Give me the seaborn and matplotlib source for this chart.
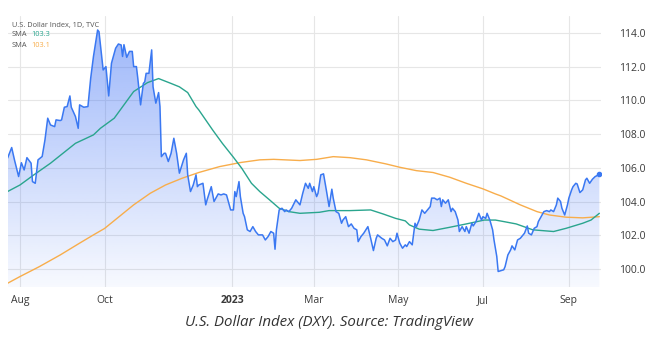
import numpy as np
import pandas as pd
import matplotlib
matplotlib.use("Agg")
import matplotlib.pyplot as plt
import matplotlib.dates as mdates
import seaborn as sns

# ---------------- data ----------------
dxy_dates = [
    "2022-07-23", "2022-07-26", "2022-07-28", "2022-07-31", "2022-08-02", "2022-08-04", "2022-08-06",
    "2022-08-09", "2022-08-10", "2022-08-12", "2022-08-14", "2022-08-17", "2022-08-19", "2022-08-21",
    "2022-08-23", "2022-08-26", "2022-08-27", "2022-08-30", "2022-08-31", "2022-09-02", "2022-09-04",
    "2022-09-06", "2022-09-07", "2022-09-10", "2022-09-12", "2022-09-13", "2022-09-16", "2022-09-19",
    "2022-09-21", "2022-09-23", "2022-09-26", "2022-09-27", "2022-09-30", "2022-10-02", "2022-10-04",
    "2022-10-06", "2022-10-09", "2022-10-11", "2022-10-13", "2022-10-14", "2022-10-15", "2022-10-17",
    "2022-10-19", "2022-10-21", "2022-10-22", "2022-10-24", "2022-10-25", "2022-10-27", "2022-10-29",
    "2022-10-30", "2022-10-31", "2022-11-02", "2022-11-04", "2022-11-05", "2022-11-07", "2022-11-09",
    "2022-11-10", "2022-11-11", "2022-11-13", "2022-11-14", "2022-11-16", "2022-11-18", "2022-11-20",
    "2022-11-22", "2022-11-24", "2022-11-27", "2022-11-29", "2022-11-30", "2022-12-02", "2022-12-04",
    "2022-12-06", "2022-12-07", "2022-12-08", "2022-12-11", "2022-12-13", "2022-12-14", "2022-12-17",
    "2022-12-19", "2022-12-22", "2022-12-24", "2022-12-26", "2022-12-28", "2022-12-31", "2023-01-02",
    "2023-01-03", "2023-01-04", "2023-01-06", "2023-01-07", "2023-01-09", "2023-01-10", "2023-01-12",
    "2023-01-14", "2023-01-16", "2023-01-18", "2023-01-20", "2023-01-23", "2023-01-25", "2023-01-27",
    "2023-01-29", "2023-01-31", "2023-02-01", "2023-02-02", "2023-02-04", "2023-02-06", "2023-02-08",
    "2023-02-09", "2023-02-11", "2023-02-13", "2023-02-16", "2023-02-19", "2023-02-21", "2023-02-23",
    "2023-02-25", "2023-02-26", "2023-02-28", "2023-03-01", "2023-03-03", "2023-03-04", "2023-03-06",
    "2023-03-08", "2023-03-10", "2023-03-12", "2023-03-14", "2023-03-15", "2023-03-17", "2023-03-19",
    "2023-03-21", "2023-03-22", "2023-03-24", "2023-03-26", "2023-03-28", "2023-03-30", "2023-04-01",
    "2023-04-02", "2023-04-04", "2023-04-06", "2023-04-09", "2023-04-11", "2023-04-13", "2023-04-15",
    "2023-04-16", "2023-04-19", "2023-04-21", "2023-04-23", "2023-04-25", "2023-04-27", "2023-04-29",
    "2023-04-30", "2023-05-02", "2023-05-04", "2023-05-06", "2023-05-07", "2023-05-09", "2023-05-11",
    "2023-05-13", "2023-05-14", "2023-05-16", "2023-05-18", "2023-05-20", "2023-05-22", "2023-05-24",
    "2023-05-25", "2023-05-27", "2023-05-29", "2023-05-31", "2023-06-01", "2023-06-02", "2023-06-04",
    "2023-06-06", "2023-06-08", "2023-06-09", "2023-06-11", "2023-06-13", "2023-06-14", "2023-06-16",
    "2023-06-18", "2023-06-19", "2023-06-21", "2023-06-23", "2023-06-24", "2023-06-26", "2023-06-28",
    "2023-06-30", "2023-07-01", "2023-07-03", "2023-07-04", "2023-07-06", "2023-07-08", "2023-07-09",
    "2023-07-11", "2023-07-12", "2023-07-14", "2023-07-16", "2023-07-17", "2023-07-19", "2023-07-21",
    "2023-07-22", "2023-07-24", "2023-07-26", "2023-07-28", "2023-07-30", "2023-07-31", "2023-08-02",
    "2023-08-03", "2023-08-05", "2023-08-07", "2023-08-09", "2023-08-10", "2023-08-12", "2023-08-14",
    "2023-08-16", "2023-08-18", "2023-08-19", "2023-08-21", "2023-08-23", "2023-08-24", "2023-08-26",
    "2023-08-27", "2023-08-29", "2023-08-31", "2023-09-01", "2023-09-03", "2023-09-04", "2023-09-06",
    "2023-09-07", "2023-09-09", "2023-09-11", "2023-09-13", "2023-09-14", "2023-09-16", "2023-09-18",
    "2023-09-20", "2023-09-21", "2023-09-23",
]
dxy_values = [
    106.57, 107.20, 106.47, 105.48, 106.30, 105.87, 106.60,
    106.27, 105.18, 105.08, 106.47, 106.67, 107.65, 108.94,
    108.54, 108.44, 108.84, 108.80, 108.84, 109.59, 109.63,
    110.26, 109.59, 109.04, 108.34, 109.73, 109.59, 109.63,
    111.31, 112.60, 114.17, 114.07, 111.80, 112.00, 110.26,
    112.20, 113.09, 113.34, 113.28, 112.60, 113.30, 112.55,
    112.90, 112.90, 112.00, 112.00, 111.30, 109.73, 111.00,
    111.10, 111.60, 111.60, 112.99, 110.80, 109.83, 110.46,
    109.63, 106.66, 106.86, 106.86, 106.37, 106.86, 107.75,
    106.86, 105.68, 106.47, 106.86, 105.58, 104.59, 104.98,
    105.58, 104.88, 104.98, 105.08, 103.80, 104.10, 104.88,
    104.00, 104.45, 104.39, 104.45, 104.39, 103.50, 103.50,
    104.59, 104.29, 105.18, 104.29, 103.30, 103.10, 102.32,
    102.22, 102.51, 102.22, 102.02, 102.02, 101.72, 101.92,
    102.22, 102.12, 101.17, 102.32, 103.50, 103.60, 103.40,
    103.50, 103.40, 103.60, 104.10, 103.80, 104.49, 105.08,
    104.78, 105.08, 104.59, 104.88, 104.29, 104.49, 105.58,
    105.64, 104.69, 103.70, 104.73, 104.20, 103.40, 103.30,
    102.71, 102.90, 103.10, 102.51, 102.67, 102.41, 102.32,
    101.62, 101.92, 102.12, 102.51, 101.82, 101.09, 101.82,
    102.02, 101.82, 101.72, 101.37, 101.82, 101.62, 101.72,
    102.12, 101.53, 101.23, 101.43, 101.33, 101.62, 101.43,
    102.71, 102.51, 102.90, 103.50, 103.30, 103.50, 103.70,
    104.20, 104.20, 104.10, 104.20, 103.70, 104.10, 103.90,
    104.10, 103.40, 103.60, 103.40, 102.90, 102.22, 102.51,
    102.22, 102.51, 102.12, 102.71, 102.55, 102.81, 103.30,
    102.90, 103.10, 103.00, 103.30, 102.90, 102.32, 101.72,
    100.74, 99.85, 99.90, 99.95, 100.14, 100.83, 101.13,
    101.37, 101.13, 101.72, 101.82, 102.02, 102.12, 102.55,
    102.12, 102.02, 102.41, 102.51, 102.81, 103.10, 103.40,
    103.46, 103.40, 103.50, 103.40, 103.80, 104.20, 104.00,
    103.60, 103.20, 103.80, 104.20, 104.69, 104.88, 105.08,
    105.04, 104.53, 104.69, 105.28, 105.38, 105.08, 105.32,
    105.48, 105.52, 105.62,
]

sma50_dates = [
    "2022-07-23", "2022-08-01", "2022-08-11", "2022-08-23", "2022-09-01", "2022-09-10", "2022-09-23",
    "2022-09-28", "2022-10-08", "2022-10-15", "2022-10-22", "2022-11-01", "2022-11-09", "2022-11-18",
    "2022-11-24", "2022-11-30", "2022-12-06", "2022-12-08", "2022-12-18", "2022-12-25", "2023-01-02",
    "2023-01-08", "2023-01-15", "2023-01-21", "2023-01-28", "2023-02-04", "2023-02-11", "2023-02-19",
    "2023-03-05", "2023-03-12", "2023-03-27", "2023-04-11", "2023-04-20", "2023-04-29", "2023-05-06",
    "2023-05-09", "2023-05-16", "2023-05-26", "2023-06-07", "2023-06-19", "2023-07-02", "2023-07-10",
    "2023-07-16", "2023-07-25", "2023-08-06", "2023-08-21", "2023-08-30", "2023-09-11", "2023-09-17",
    "2023-09-23",
]
sma50_values = [
    104.59, 104.98, 105.58, 106.27, 106.86, 107.45, 107.95,
    108.34, 108.94, 109.73, 110.52, 111.05, 111.29, 111.00,
    110.80, 110.46, 109.63, 109.43, 108.24, 107.45, 106.62,
    105.97, 105.08, 104.59, 104.10, 103.60, 103.40, 103.30,
    103.36, 103.46, 103.46, 103.50, 103.26, 103.00, 102.85,
    102.61, 102.36, 102.28, 102.47, 102.67, 102.90, 102.90,
    102.81, 102.67, 102.32, 102.22, 102.41, 102.71, 102.90,
    103.30,
]

sma200_dates = [
    "2022-07-23", "2022-08-01", "2022-08-15", "2022-08-30", "2022-09-13", "2022-09-23", "2022-10-01",
    "2022-10-10", "2022-10-22", "2022-11-03", "2022-11-14", "2022-11-26", "2022-12-08", "2022-12-23",
    "2023-01-07", "2023-01-21", "2023-01-31", "2023-02-19", "2023-03-03", "2023-03-15", "2023-03-27",
    "2023-04-08", "2023-04-22", "2023-05-02", "2023-05-14", "2023-05-26", "2023-06-07", "2023-06-19",
    "2023-07-01", "2023-07-10", "2023-07-14", "2023-07-28", "2023-08-09", "2023-08-18", "2023-08-30",
    "2023-09-11", "2023-09-23",
]
sma200_values = [
    99.15, 99.55, 100.14, 100.83, 101.53, 102.02, 102.40,
    103.00, 103.80, 104.49, 104.98, 105.38, 105.72, 106.07,
    106.31, 106.47, 106.50, 106.43, 106.50, 106.66, 106.60,
    106.47, 106.23, 106.03, 105.83, 105.72, 105.44, 105.08,
    104.75, 104.45, 104.33, 103.80, 103.40, 103.20, 103.07,
    103.03, 103.10,
]

y_ticks = [100, 102, 104, 106, 108, 110, 112, 114]
x_tick_dates = ["2022-08-01", "2022-10-01", "2023-01-01", "2023-03-01",
                "2023-05-01", "2023-07-01", "2023-09-01"]
x_tick_labels = ["Aug", "Oct", "2023", "Mar", "May", "Jul", "Sep"]

title_text = "U.S. Dollar Index, 1D, TVC"
sma50_label = "103.3"
sma200_label = "103.1"
caption = "U.S. Dollar Index (DXY). Source: TradingView"

# ---------------- style ----------------
sns.set_theme(style="white")
plt.rcParams['font.family'] = ['Open Sans', 'DejaVu Sans']

BLUE = "#3a78f2"
GREEN = "#2aa58e"
ORANGE = "#f8ad4b"
GRID = "#e6e6e6"
TEXT = "#3a3a3a"

df_dxy = pd.DataFrame({"date": pd.to_datetime(dxy_dates), "value": dxy_values})
df_50 = pd.DataFrame({"date": pd.to_datetime(sma50_dates), "value": sma50_values})
df_200 = pd.DataFrame({"date": pd.to_datetime(sma200_dates), "value": sma200_values})

fig = plt.figure(figsize=(6.64, 3.37), dpi=100)
ax = fig.add_axes([8 / 664, 1 - 287 / 337, 593 / 664, 271 / 337])

aug1 = pd.Timestamp("2022-08-01")
x_lo = aug1 - pd.Timedelta(days=8.66)
x_hi = aug1 + pd.Timedelta(days=419.2)
y_lo, y_hi = 98.93, 115.0

# lines
sns.lineplot(data=df_200, x="date", y="value", ax=ax, color=ORANGE, linewidth=1.0, zorder=4)
sns.lineplot(data=df_50, x="date", y="value", ax=ax, color=GREEN, linewidth=1.0, zorder=4)
sns.lineplot(data=df_dxy, x="date", y="value", ax=ax, color=BLUE, linewidth=1.1, zorder=5)

# gradient area fill under DXY
xn = mdates.date2num(df_dxy["date"])
poly = ax.fill_between(xn, df_dxy["value"], y_lo, color="none", linewidth=0)
n = 256
alpha = np.linspace(0.04, 0.52, n)
img = np.zeros((n, 1, 4))
img[:, 0, 0] = 58 / 255
img[:, 0, 1] = 110 / 255
img[:, 0, 2] = 245 / 255
img[:, 0, 3] = alpha
xlo_n = mdates.date2num(x_lo)
xhi_n = mdates.date2num(x_hi)
im = ax.imshow(img, extent=[xlo_n, xhi_n, y_lo, y_hi], origin="lower",
               aspect="auto", zorder=2, interpolation="bilinear")
im.set_clip_path(poly.get_paths()[0], transform=ax.transData)

# end marker
ax.plot(xn[-1], dxy_values[-1], "o", color=BLUE, markersize=3, zorder=6)

ax.set_xlim(x_lo, x_hi)
ax.set_ylim(y_lo, y_hi)

# axes cosmetics
for s in ax.spines.values():
    s.set_visible(False)
ax.yaxis.tick_right()
ax.set_yticks(y_ticks)
ax.set_yticklabels([f"{v:.1f}" for v in y_ticks])
ax.set_xticks(mdates.date2num(pd.to_datetime(x_tick_dates)))
ax.set_xticklabels(x_tick_labels)
for lbl in ax.get_xticklabels():
    if lbl.get_text() == "2023":
        lbl.set_fontweight("bold")
ax.tick_params(axis="y", length=0, pad=13, labelsize=7.5, colors=TEXT)
ax.tick_params(axis="x", length=0, pad=6, labelsize=7.5, colors=TEXT)
ax.grid(True, color=GRID, linewidth=0.8, zorder=0)
ax.set_axisbelow(True)
ax.set_xlabel("")
ax.set_ylabel("")

# header legend
fs_leg = 5.3
fig.text(12 / 664, 1 - 25 / 337, title_text, fontsize=fs_leg, color="#555555", va="center", ha="left")
fig.text(12 / 664, 1 - 35 / 337, "SMA", fontsize=fs_leg, color="#555555", va="center", ha="left")
fig.text(31 / 664, 1 - 35 / 337, sma50_label, fontsize=fs_leg, color=GREEN, va="center", ha="left")
fig.text(12 / 664, 1 - 45.5 / 337, "SMA", fontsize=fs_leg, color="#555555", va="center", ha="left")
fig.text(31 / 664, 1 - 45.5 / 337, sma200_label, fontsize=fs_leg, color=ORANGE, va="center", ha="left")

# caption
fig.text(329.5 / 664, 1 - 322 / 337, caption, fontsize=10.8, style="italic",
         color="#333333", ha="center", va="center")

fig.savefig("out.png", dpi=100)
